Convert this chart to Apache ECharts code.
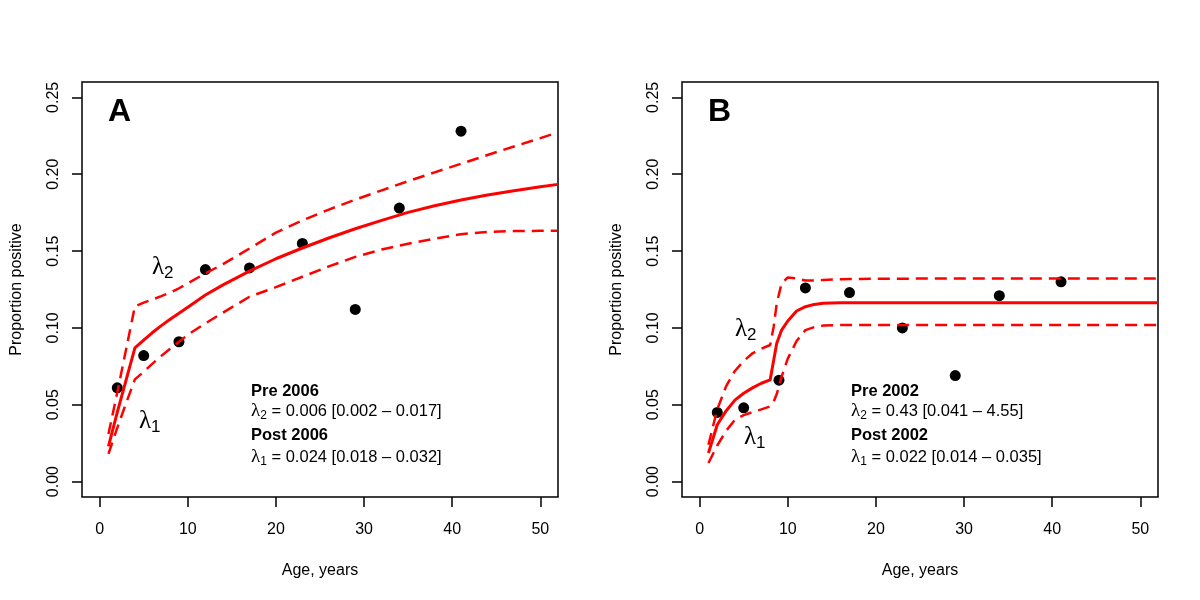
<!DOCTYPE html>
<html>
<head>
<meta charset="utf-8">
<script src="https://cdn.jsdelivr.net/npm/echarts@6/dist/echarts.min.js"></script>
<style>html,body{margin:0;padding:0;background:#fff}#c{width:1200px;height:600px}</style>
</head>
<body>
<div id="c"></div>
<script>
// ---- data ----
const ages = [2, 5, 9, 12, 17, 23, 29, 34, 41];
const propA = [0.061, 0.082, 0.091, 0.138, 0.139, 0.155, 0.112, 0.178, 0.228];
const propB = [0.045, 0.048, 0.066, 0.126, 0.123, 0.100, 0.069, 0.121, 0.130];

const curveAgeA = [1, 2, 3, 4, 5, 6, 7, 8, 9, 10, 12, 14, 17, 20, 23, 26, 29, 32, 35, 38, 41, 44, 47, 50, 52];
const fitA   = [0.023, 0.045, 0.066, 0.087, 0.092, 0.097, 0.1015, 0.1056, 0.1095, 0.1135, 0.1214, 0.128, 0.137, 0.145, 0.152, 0.1585, 0.1645, 0.170, 0.1752, 0.1795, 0.1832, 0.1865, 0.1893, 0.1918, 0.1934];
const upperA = [0.031, 0.058, 0.086, 0.114, 0.1165, 0.1185, 0.1207, 0.123, 0.1258, 0.129, 0.1355, 0.1415, 0.1517, 0.162, 0.170, 0.177, 0.1835, 0.1895, 0.1955, 0.2012, 0.2068, 0.2125, 0.218, 0.2235, 0.2272];
const lowerA = [0.018, 0.035, 0.051, 0.0665, 0.0715, 0.0768, 0.0818, 0.0865, 0.091, 0.0955, 0.103, 0.110, 0.1203, 0.1265, 0.1333, 0.140, 0.1462, 0.151, 0.1548, 0.158, 0.161, 0.1625, 0.163, 0.1632, 0.1632];

const curveAgeB = [1, 2, 3, 4, 5, 6, 7, 8, 8.4, 8.75, 9.3, 10, 11, 12, 13, 14, 16, 20, 30, 52];
const fitB   = [0.0186, 0.037, 0.046, 0.053, 0.0575, 0.061, 0.064, 0.0662, 0.079, 0.090, 0.0986, 0.1045, 0.111, 0.1138, 0.1153, 0.116, 0.1164, 0.1164, 0.1164, 0.1164];
const upperB = [0.024, 0.047, 0.062, 0.072, 0.0785, 0.0835, 0.0865, 0.0889, 0.1008, 0.116, 0.129, 0.1328, 0.1322, 0.1308, 0.1308, 0.1312, 0.1317, 0.1320, 0.1322, 0.1322];
const lowerB = [0.0121, 0.0235, 0.033, 0.0402, 0.0433, 0.0452, 0.047, 0.0489, 0.052, 0.057, 0.0683, 0.080, 0.0915, 0.0986, 0.1005, 0.1015, 0.1019, 0.1019, 0.1019, 0.1019];

const xTicks = [0, 10, 20, 30, 40, 50];
const yTicks = [0, 0.05, 0.1, 0.15, 0.2, 0.25];
const panelLetters = ['A', 'B'];
const noteA = ['Pre 2006', '0.006 [0.002 \u2013 0.017]', 'Post 2006', '0.024 [0.018 \u2013 0.032]'];
const noteB = ['Pre 2002', '0.43 [0.041 \u2013 4.55]', 'Post 2002', '0.022 [0.014 \u2013 0.035]'];

// ---- chart ----
const FF = '"Liberation Sans", Arial, sans-serif';
const RED = '#ff0000';
const zip = (a, b) => a.map((v, i) => [v, b[i]]);

const grids = [0, 1].map(i => ({
  left: 82 + i * 600, top: 82, width: 476, height: 415,
  show: true, borderColor: '#000', borderWidth: 1.5, backgroundColor: 'rgba(0,0,0,0)'
}));

const xAxes = [0, 1].map(i => ({
  type: 'value', gridIndex: i, min: -2, max: 52,
  axisLine: { show: false, onZero: false },
  splitLine: { show: false },
  axisTick: { show: true, customValues: xTicks, length: 10, lineStyle: { color: '#000', width: 1.5 } },
  axisLabel: { customValues: xTicks, fontSize: 16, color: '#000', fontFamily: FF, margin: 25 },
  name: 'Age, years', nameLocation: 'middle', nameGap: 66,
  nameTextStyle: { fontSize: 16, color: '#000', fontFamily: FF }
}));

const yAxes = [0, 1].map(i => ({
  type: 'value', gridIndex: i, min: -0.01, max: 0.26,
  axisLine: { show: false, onZero: false },
  splitLine: { show: false },
  axisTick: { show: true, customValues: yTicks, length: 10, lineStyle: { color: '#000', width: 1.5 } },
  axisLabel: { customValues: yTicks, rotate: 90, fontSize: 16, color: '#000', fontFamily: FF, margin: 20,
               formatter: v => v.toFixed(2) },
  name: 'Proportion positive', nameLocation: 'middle', nameGap: 57, nameRotate: 90,
  nameTextStyle: { fontSize: 16, color: '#000', fontFamily: FF }
}));

function lineSeries(idx, ageArr, vals, dashed) {
  return {
    type: 'line', xAxisIndex: idx, yAxisIndex: idx, data: zip(ageArr, vals),
    showSymbol: false, symbol: 'none', silent: true, z: 4,
    lineStyle: { color: RED, width: dashed ? 2.5 : 3, type: dashed ? [12, 7] : 'solid' }
  };
}
function pointSeries(idx, vals) {
  return {
    type: 'scatter', xAxisIndex: idx, yAxisIndex: idx, data: zip(ages, vals),
    symbol: 'circle', symbolSize: 11, itemStyle: { color: '#000', opacity: 1 }, z: 3, silent: true
  };
}

const series = [
  pointSeries(0, propA),
  lineSeries(0, curveAgeA, fitA, false),
  lineSeries(0, curveAgeA, upperA, true),
  lineSeries(0, curveAgeA, lowerA, true),
  pointSeries(1, propB),
  lineSeries(1, curveAgeB, fitB, false),
  lineSeries(1, curveAgeB, upperB, true),
  lineSeries(1, curveAgeB, lowerB, true)
];

const lamRich = {
  l: { fontFamily: '"Liberation Serif", serif', fontSize: 19, fill: '#000', color: '#000' },
  s: { fontFamily: FF, fontSize: 12, fill: '#000', color: '#000', padding: [9, 0, 0, 0] },
  t: { fontFamily: FF, fontSize: 16.5, fill: '#000', color: '#000' }
};
const bigLamRich = {
  l: { fontFamily: '"Liberation Serif", serif', fontSize: 25, fill: '#000', color: '#000' },
  s: { fontFamily: FF, fontSize: 17, fill: '#000', color: '#000', padding: [12, 0, 0, 0] }
};

function textEl(x, y, text, font) {
  return { type: 'text', z: 10, style: { x, y, text, font, fill: '#000', textAlign: 'left', textVerticalAlign: 'middle' } };
}
function richEl(x, y, text, rich) {
  return { type: 'text', z: 10, style: { x, y, text, rich, fill: '#000', textAlign: 'left', textVerticalAlign: 'middle' } };
}

const graphics = [];
[noteA, noteB].forEach((note, i) => {
  const ox = i * 600;
  graphics.push(textEl(108 + ox, 112, panelLetters[i], 'bold 32px ' + FF));
  graphics.push(textEl(251 + ox, 391, note[0], 'bold 16.5px ' + FF));
  graphics.push(richEl(251 + ox, 411, '{l|\u03bb}{s|2}{t| = ' + note[1] + '}', lamRich));
  graphics.push(textEl(251 + ox, 435, note[2], 'bold 16.5px ' + FF));
  graphics.push(richEl(251 + ox, 457, '{l|\u03bb}{s|1}{t| = ' + note[3] + '}', lamRich));
});
graphics.push(richEl(152, 267, '{l|\u03bb}{s|2}', bigLamRich));
graphics.push(richEl(139, 421, '{l|\u03bb}{s|1}', bigLamRich));
graphics.push(richEl(735, 329, '{l|\u03bb}{s|2}', bigLamRich));
graphics.push(richEl(744, 437, '{l|\u03bb}{s|1}', bigLamRich));

const chart = echarts.init(document.getElementById('c'), null, { renderer: 'canvas' });
chart.setOption({
  animation: false,
  backgroundColor: '#fff',
  grid: grids,
  xAxis: xAxes,
  yAxis: yAxes,
  series,
  graphic: graphics
});
</script>
</body>
</html>
